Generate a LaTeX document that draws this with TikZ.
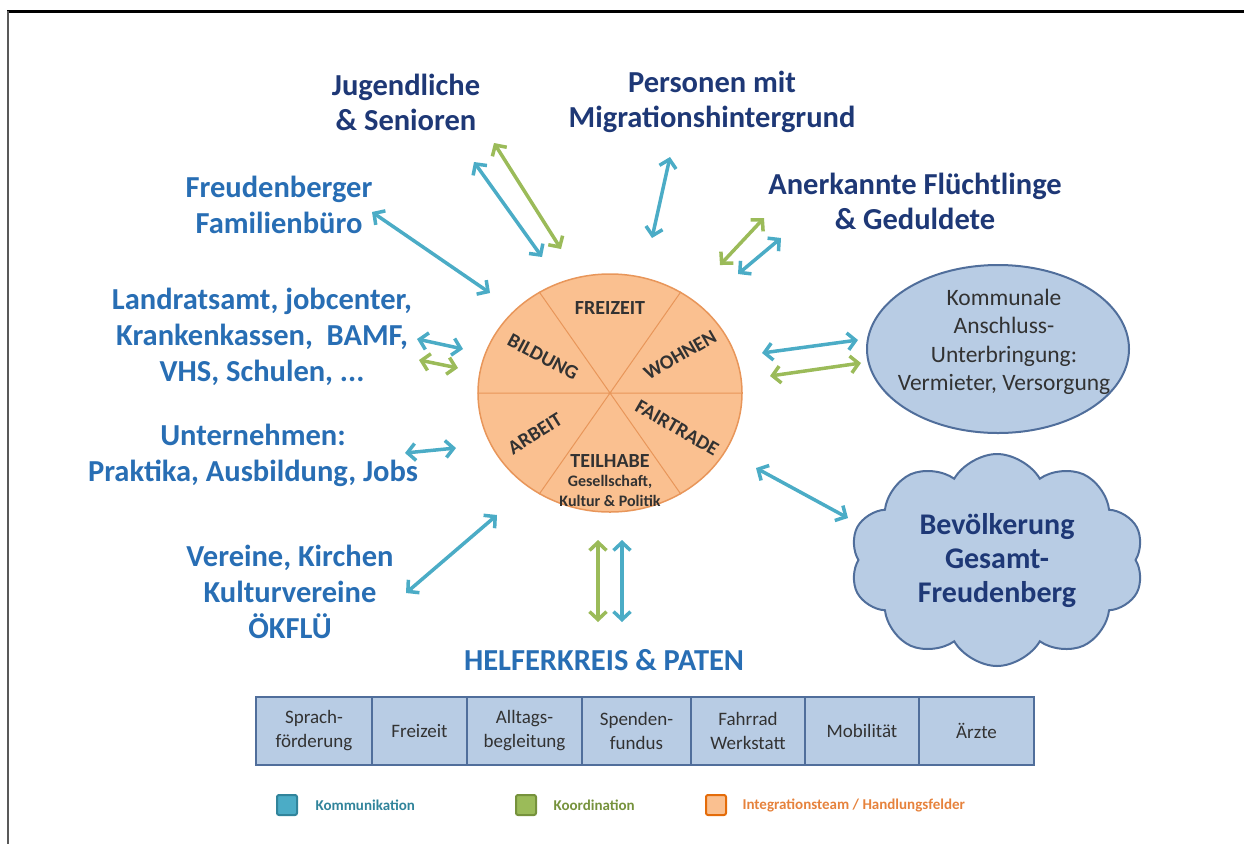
\documentclass[tikz,border=0pt]{standalone}
\usepackage{fontspec}
\setmainfont{Carlito}
\usetikzlibrary{arrows.meta,shapes.geometric,shapes.symbols}

\definecolor{navy}{RGB}{30,56,118}
\definecolor{midblue}{RGB}{40,110,180}
\definecolor{arrblue}{RGB}{75,172,198}
\definecolor{arrgreen}{RGB}{155,187,89}
\definecolor{piefill}{RGB}{250,192,144}
\definecolor{pieline}{RGB}{232,150,90}
\definecolor{boxfill}{RGB}{184,204,228}
\definecolor{boxline}{RGB}{80,110,155}
\definecolor{txtgray}{RGB}{50,50,50}
\definecolor{legblue}{RGB}{49,132,155}
\definecolor{leggreen}{RGB}{118,146,60}
\definecolor{legorange}{RGB}{228,108,10}
\definecolor{legorangetxt}{RGB}{230,130,60}

\begin{document}
\begin{tikzpicture}[x=1pt,y=-1pt,
  tip/.tip={Straight Barb[length=8pt,width=17pt,line width=3.5pt]},
  comm/.style={draw=arrblue, line width=3.5pt, tip-tip},
  coop/.style={draw=arrgreen, line width=3.5pt, tip-tip},
  navylabel/.style={font=\fontsize{30.5}{35}\selectfont\bfseries, text=navy, align=center},
  bluelabel/.style={font=\fontsize{30.5}{36}\selectfont\bfseries, text=midblue, align=center},
  slice/.style={font=\fontsize{20}{22}\selectfont\bfseries, text=txtgray},
  subslice/.style={font=\fontsize{16}{19.5}\selectfont\bfseries, text=txtgray, align=center},
  cell/.style={draw=boxline, line width=2.5pt, fill=boxfill, minimum height=68pt,
    text=txtgray, font=\fontsize{19}{24}\selectfont, align=center, inner sep=0pt},
  legbox/.style={rounded corners=2pt, line width=2pt, minimum width=20pt, minimum height=20pt, inner sep=0pt},
  legtext/.style={font=\fontsize{15}{18}\selectfont\bfseries, anchor=west},
]
\useasboundingbox (0,0) rectangle (1244,844);

% frame lines
\draw[black, line width=3pt] (7,11) -- (1244,11);
\draw[black!65, line width=2pt] (8,11) -- (8,844);

% central wheel of fields of action
\node[ellipse, draw=pieline, fill=piefill, line width=1.5pt,
      minimum width=264pt, minimum height=238pt, inner sep=0pt] (pie) at (610,393) {};
\draw[pieline, line width=1pt] (pie.west) -- (pie.east)
  (pie.125) -- (pie.305) (pie.55) -- (pie.235);
\node[slice] (freizeit) at (610,308) {FREIZEIT};
\node[slice, rotate=-28] (bildung) at (543,357) {BILDUNG};
\node[slice, rotate=30] (wohnen) at (680,355) {WOHNEN};
\node[slice, rotate=32] (arbeit) at (535,434) {ARBEIT};
\node[slice, rotate=-30] (fairtrade) at (677,428) {FAIRTRADE};
\node[slice] (teilhabe) at (610,461) {TEILHABE};
\node[subslice] (teilsub) at (610,491) {Gesellschaft,\\Kultur \& Politik};

% partners around the wheel
\node[navylabel] (jugend) at (406,102) {Jugendliche\\\& Senioren};
\node[navylabel] (migration) at (712,102) {Personen mit\\Migrationshintergrund};
\node[navylabel] (fluechtl) at (915,201) {Anerkannte Flüchtlinge\\\& Geduldete};
\node[bluelabel] (familie) at (279,205) {Freudenberger\\Familienbüro};
\node[bluelabel] (amt) at (262,337) {Landratsamt, jobcenter,\\Krankenkassen,\ \ BAMF,\\VHS, Schulen, ...};
\node[bluelabel] (firmen) at (253,455) {Unternehmen:\\Praktika, Ausbildung, Jobs};
\node[bluelabel] (vereine) at (290,592) {Vereine, Kirchen\\Kulturvereine\\ÖKFLÜ};
\node[bluelabel] (helfer) at (604,660) {HELFERKREIS \& PATEN};

\node[ellipse, draw=boxline, fill=boxfill, line width=2pt,
      minimum width=262pt, minimum height=168pt, inner sep=0pt] (kommunal) at (998,349) {};
\node[align=center, text=txtgray, font=\fontsize{23.5}{28.5}\selectfont] (kommtxt) at (1004,342)
  {Kommunale\\Anschluss-\\Unterbringung:\\Vermieter, Versorgung};

\node[cloud, cloud puffs=10, cloud puff arc=120, draw=boxline, fill=boxfill, line width=2pt,
      minimum width=294pt, minimum height=212pt, inner sep=0pt] (bevoelk) at (997,560) {};
\node[align=center, text=navy, font=\fontsize{30}{34}\selectfont\bfseries] (bevtxt) at (997,561)
  {Bevölkerung\\Gesamt-\\Freudenberg};

% arrow end points
\coordinate (a1) at (372,212); \coordinate (b1) at (490,293);
\coordinate (a2) at (474,162); \coordinate (b2) at (542,257);
\coordinate (a3) at (494,143); \coordinate (b3) at (561,249);
\coordinate (a4) at (670,157); \coordinate (b4) at (652,238);
\coordinate (a5) at (720,265); \coordinate (b5) at (764,218);
\coordinate (a6) at (738,274); \coordinate (b6) at (781,238);
\coordinate (a7) at (762,353); \coordinate (b7) at (858,340);
\coordinate (a8) at (770,376); \coordinate (b8) at (861,363);
\coordinate (a9) at (756,468); \coordinate (b9) at (848,518);
\coordinate (a10) at (417,339); \coordinate (b10) at (463,349);
\coordinate (a11) at (419,360); \coordinate (b11) at (458,368);
\coordinate (a12) at (405,453); \coordinate (b12) at (456,448);
\coordinate (a13) at (406,593); \coordinate (b13) at (497,515);
\coordinate (a14) at (598,540); \coordinate (b14) at (598,622);
\coordinate (a15) at (622,540); \coordinate (b15) at (622,622);

\draw[comm] (a1) -- (b1);
\draw[comm] (a2) -- (b2);
\draw[coop] (a3) -- (b3);
\draw[comm] (a4) -- (b4);
\draw[coop] (a5) -- (b5);
\draw[comm] (a6) -- (b6);
\draw[comm] (a7) -- (b7);
\draw[coop] (a8) -- (b8);
\draw[comm] (a9) -- (b9);
\draw[comm] (a10) -- (b10);
\draw[coop] (a11) -- (b11);
\draw[comm] (a12) -- (b12);
\draw[comm] (a13) -- (b13);
\draw[coop] (a14) -- (b14);
\draw[comm] (a15) -- (b15);

% support activities of the helpers
\node[cell, minimum width=116pt] (c1) at (314,731) {Sprach-\\förderung};
\node[cell, minimum width=95pt] (c2) at (419.5,731) {Freizeit};
\node[cell, minimum width=115pt] (c3) at (524.5,731) {Alltags-\\begleitung};
\node[cell, minimum width=109pt] (c4) at (636.5,731) {Spenden-\\fundus};
\node[cell, minimum width=114pt] (c5) at (748,731) {Fahrrad\\Werkstatt};
\node[cell, minimum width=114pt] (c6) at (862,731) {Mobilität};
\node[cell, minimum width=115pt] (c7) at (976.5,731) {Ärzte};

% legend
\node[legbox, draw=legblue, fill=arrblue] (k1) at (287,805) {};
\node[legtext, text=legblue] (k1t) at (312,805) {Kommunikation};
\node[legbox, draw=leggreen, fill=arrgreen] (k2) at (526,805) {};
\node[legtext, text=leggreen] (k2t) at (550,805) {Koordination};
\node[legbox, draw=legorange, fill=piefill] (k3) at (716,805) {};
\node[legtext, text=legorangetxt] (k3t) at (739,805) {Integrationsteam / Handlungsfelder};
\end{tikzpicture}
\end{document}
